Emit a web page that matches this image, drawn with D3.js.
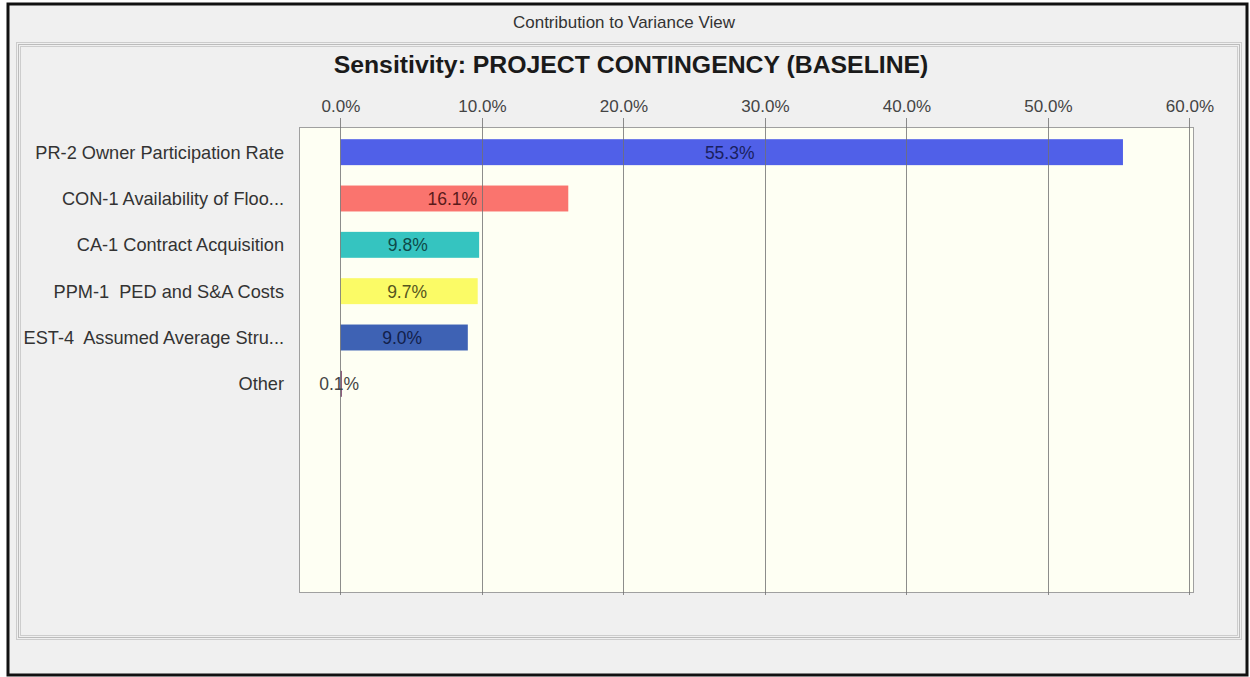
<!DOCTYPE html>
<html>
<head>
<meta charset="utf-8">
<script src="https://cdn.jsdelivr.net/npm/d3@7"></script>
<style>
  html, body { margin: 0; padding: 0; background: #ffffff; }
  svg { display: block; font-family: "Liberation Sans", Arial, sans-serif; }
  text { white-space: pre; }
</style>
</head>
<body>
<svg id="chart" width="1250" height="677"></svg>
<script>
// ---- Data ----
const categories = [
  "PR-2 Owner Participation Rate",
  "CON-1 Availability of Floo...",
  "CA-1 Contract Acquisition",
  "PPM-1  PED and S&A Costs",
  "EST-4  Assumed Average Stru...",
  "Other"
];
const values = [55.3, 16.1, 9.8, 9.7, 9.0, 0.1];
const barColors = ["#5060e8", "#fa746e", "#35c4c0", "#fbfb66", "#3e62b4", "#8a5a7a"];
const tickValues = [0, 10, 20, 30, 40, 50, 60];
const windowTitle = "Contribution to Variance View";
const chartTitle = "Sensitivity: PROJECT CONTINGENCY (BASELINE)";

// ---- Layout ----
const svg = d3.select("#chart");
const plot = { left: 299, right: 1193, top: 127, bottom: 592 };
const FS = 17.5;

// window background
svg.append("rect").attr("x", 0).attr("y", 0).attr("width", 1250).attr("height", 677).attr("fill", "#ffffff");
svg.append("rect").attr("x", 8).attr("y", 4).attr("width", 1239).attr("height", 671)
  .attr("fill", "#f0f0f0").attr("stroke", "#111").attr("stroke-width", 3);

// window title
svg.append("text").attr("x", 624).attr("y", 28).attr("text-anchor", "middle")
  .attr("font-size", 17).attr("fill", "#333")
  .attr("textLength", 222).attr("lengthAdjust", "spacingAndGlyphs")
  .text(windowTitle);

// dotted frame
svg.append("rect").attr("x", 18.5).attr("y", 44.5).attr("width", 1221).attr("height", 593)
  .attr("fill", "none").attr("stroke", "#888").attr("stroke-width", 1).attr("stroke-dasharray", "1,1");
svg.append("rect").attr("x", 20.5).attr("y", 46.5).attr("width", 1217).attr("height", 589)
  .attr("fill", "none").attr("stroke", "#aaa").attr("stroke-width", 1).attr("stroke-dasharray", "1,1");
svg.append("rect").attr("x", 16.5).attr("y", 42.5).attr("width", 1225).attr("height", 597)
  .attr("fill", "none").attr("stroke", "#ccc").attr("stroke-width", 1);

// chart title
svg.append("text").attr("x", 631).attr("y", 73).attr("text-anchor", "middle")
  .attr("font-size", 24.8).attr("font-weight", "bold").attr("fill", "#1a1a1a")
  .text(chartTitle);

// ---- Scales ----
const x = d3.scaleLinear().domain([-2.93, 60.25]).range([plot.left, plot.right]);
const y = d3.scaleBand().domain(categories).range([129, 407]).paddingInner(0.44).paddingOuter(0.22);

// plot background
svg.append("rect").attr("x", plot.left + 0.5).attr("y", plot.top + 0.5)
  .attr("width", plot.right - plot.left).attr("height", plot.bottom - plot.top)
  .attr("fill", "#fefff3").attr("stroke", "#a0a0a0").attr("stroke-width", 1);

// bars
svg.append("g").selectAll("rect").data(values).join("rect")
  .attr("x", x(0))
  .attr("y", (d, i) => y(categories[i]))
  .attr("width", d => Math.max(1.5, x(d) - x(0)))
  .attr("height", y.bandwidth())
  .attr("fill", (d, i) => barColors[i]);

// gridlines (over bars)
svg.append("g").selectAll("line").data(tickValues).join("line")
  .attr("x1", d => Math.round(x(d)) + 0.5).attr("x2", d => Math.round(x(d)) + 0.5)
  .attr("y1", 118).attr("y2", plot.bottom + 3)
  .attr("stroke", "#707070").attr("stroke-opacity", 0.8).attr("stroke-width", 1);

// top axis labels
const axis = d3.axisTop(x).tickValues(tickValues).tickFormat(d => d.toFixed(1) + "%").tickSize(0).tickPadding(0);
const ag = svg.append("g").attr("transform", "translate(0,112)").call(axis);
ag.select(".domain").remove();
ag.selectAll("text").attr("font-size", 17).attr("fill", "#444")
  .attr("font-family", "Liberation Sans, Arial");

// category labels
svg.append("g").selectAll("text").data(categories).join("text")
  .attr("x", 284)
  .attr("y", d => y(d) + y.bandwidth() / 2)
  .attr("dy", "0.36em")
  .attr("text-anchor", "end")
  .attr("font-size", 18.2)
  .attr("fill", "#333")
  .text(d => d);

// value labels
const labelColors = ["#1a2060", "#5a1a1a", "#0e4a48", "#555520", "#12204a", "#444"];
svg.append("g").selectAll("text").data(values).join("text")
  .attr("x", d => (x(0) + x(d)) / 2 - 2)
  .attr("y", (d, i) => y(categories[i]) + y.bandwidth() / 2)
  .attr("dy", "0.38em")
  .attr("text-anchor", "middle")
  .attr("font-size", FS)
  .attr("fill", (d, i) => labelColors[i])
  .text(d => d.toFixed(1) + "%");
</script>
</body>
</html>
